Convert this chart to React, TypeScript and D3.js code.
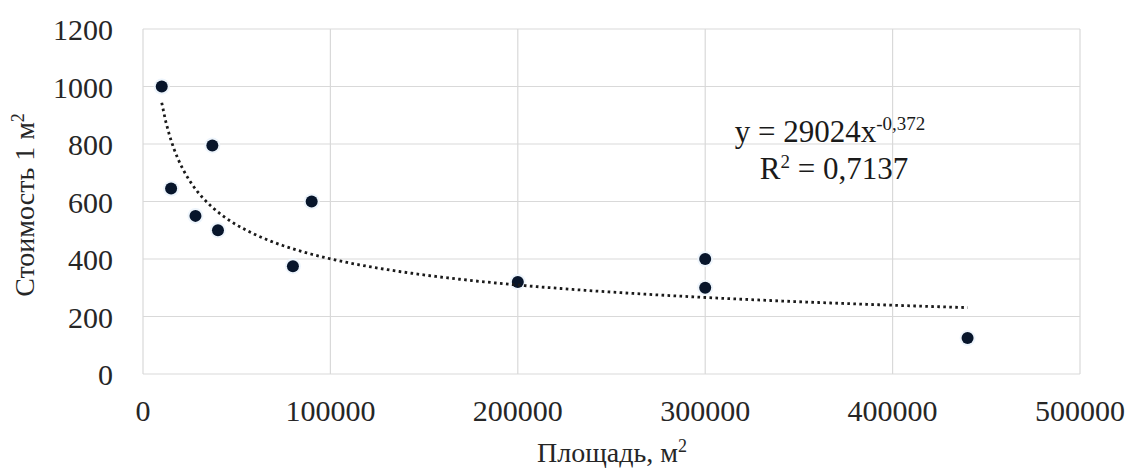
import * as d3 from "d3";

const areas = [10000, 15000, 28000, 37000, 40000, 80000, 90000, 200000, 300000, 300000, 440000];
const prices = [1000, 645, 550, 795, 500, 375, 600, 320, 400, 300, 125];
const xTicks = [0, 100000, 200000, 300000, 400000, 500000];
const yTicks = [0, 200, 400, 600, 800, 1000, 1200];
const trendCoef = 29024;
const trendExp = -0.372;
const trendRange = [10000, 440000];

const W = 1131;
const H = 470;
const font = "'Liberation Serif', 'Times New Roman', serif";

export default function App() {
  const x = d3.scaleLinear().domain([0, 500000]).range([143, 1080]);
  const y = d3.scaleLinear().domain([0, 1200]).range([374, 29]);

  const trendX = d3.range(0, 201).map(
    (i) => trendRange[0] + ((trendRange[1] - trendRange[0]) * i) / 200
  );
  const trendLine = d3
    .line<number>()
    .x((d) => x(d))
    .y((d) => y(trendCoef * Math.pow(d, trendExp)));

  return (
    <svg
      width={W}
      height={H}
      style={{ position: "absolute", left: 0, top: 0, background: "#fff" }}
      fontFamily={font}
    >
      {/* grid */}
      {yTicks.map((t) => (
        <line key={"gy" + t} x1={x(0)} x2={x(500000)} y1={y(t)} y2={y(t)} stroke="#d9d9d9" strokeWidth={1.2} />
      ))}
      {xTicks.map((t) => (
        <line key={"gx" + t} x1={x(t)} x2={x(t)} y1={y(0)} y2={y(1200)} stroke="#d9d9d9" strokeWidth={1.2} />
      ))}

      {/* tick labels */}
      {yTicks.map((t) => (
        <text key={"ly" + t} x={113} y={y(t) + 11} textAnchor="end" fontSize={30} fill="#262626">
          {t}
        </text>
      ))}
      {xTicks.map((t) => (
        <text key={"lx" + t} x={x(t)} y={421} textAnchor="middle" fontSize={30} fill="#262626">
          {t}
        </text>
      ))}

      {/* axis titles */}
      <text x={612} y={462} textAnchor="middle" fontSize={28} fill="#262626">
        Площадь, м<tspan dy={-10} fontSize={18}>2</tspan>
      </text>
      <text
        transform={`translate(34,205) rotate(-90)`}
        textAnchor="middle"
        fontSize={28}
        fill="#262626"
      >
        Стоимость 1 м<tspan dy={-10} fontSize={18}>2</tspan>
      </text>

      {/* points */}
      {areas.map((a, i) => (
        <circle key={"h" + i} cx={x(a)} cy={y(prices[i])} r={8} fill="#eef5fc" />
      ))}
      {areas.map((a, i) => (
        <circle key={"p" + i} cx={x(a)} cy={y(prices[i])} r={6} fill="#07152b" />
      ))}

      {/* trend line */}
      <path
        d={trendLine(trendX) || ""}
        fill="none"
        stroke="#1a1a1a"
        strokeWidth={2.8}
        strokeDasharray="2.6 3.4"
      />

      {/* equation */}
      <text x={830} y={142} textAnchor="middle" fontSize={31} fill="#1a1a1a">
        y = 29024x<tspan dy={-12} fontSize={19}>-0,372</tspan>
      </text>
      <text x={834} y={179} textAnchor="middle" fontSize={31} fill="#1a1a1a">
        R<tspan dy={-11} fontSize={19}>2</tspan>
        <tspan dy={11}> = 0,7137</tspan>
      </text>
    </svg>
  );
}
